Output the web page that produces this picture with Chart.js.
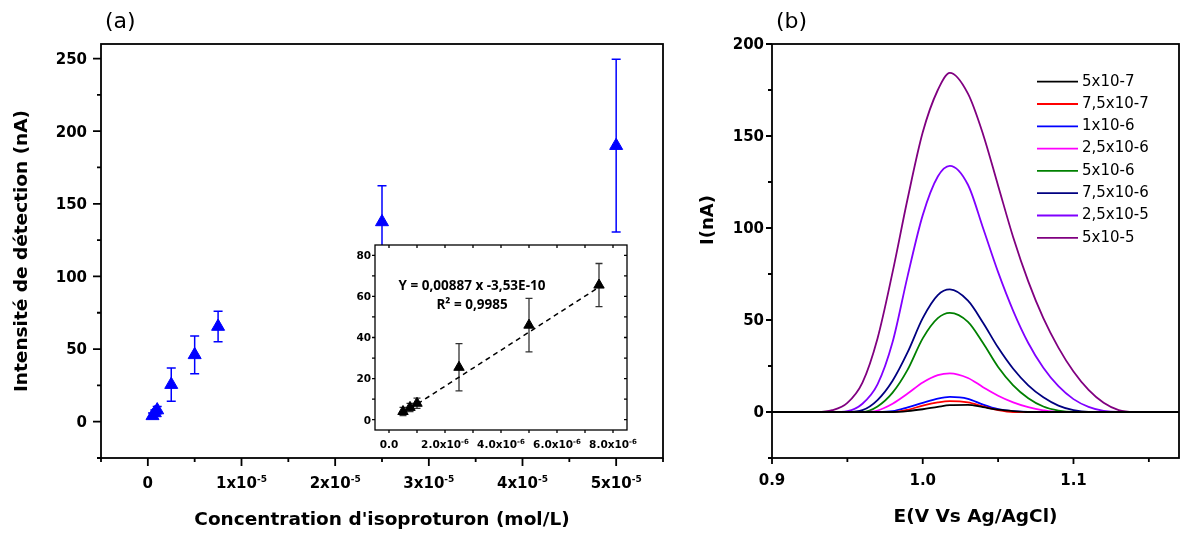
<!DOCTYPE html>
<html>
<head>
<meta charset="utf-8">
<script src="https://cdn.jsdelivr.net/npm/chart.js@4.4.1/dist/chart.umd.min.js"></script>
<style>
  html, body { margin: 0; padding: 0; background: #fff; }
  #wrap { position: relative; width: 1180px; height: 533px; overflow: hidden; }
  canvas { position: absolute; }
  #chartA { left: 0; top: 0; }
  #inset { left: 330px; top: 235px; }
  #chartB { left: 680px; top: 0; }
  .tag { position: absolute; top: 8px; font: 22px "DejaVu Sans"; color: #000; }
</style>
</head>
<body>
<div id="wrap">
  <canvas id="chartA" width="680" height="533"></canvas>
  <canvas id="inset" width="310" height="230"></canvas>
  <canvas id="chartB" width="500" height="533"></canvas>
  <div class="tag" style="left:105px">(a)</div>
  <div class="tag" style="left:776px">(b)</div>
</div>
<script>
// ---- (a) calibration data ----
const concentrations = [5e-7, 7.5e-7, 1e-6, 2.5e-6, 5e-6, 7.5e-6, 2.5e-5, 5e-5];
const intensities    = [4, 6, 8, 25.5, 46, 65.5, 137.5, 190];
const intensityErr   = [2, 2, 2.5, 11.5, 13, 10.5, 25, 59.5];
const insetCount = 6; // linear range shown in the inset
const fitX = [4.8e-7, 7.5e-6];
const fitY = [3, 64.5];
const equationLines = ['Y = 0,00887 x -3,53E-10', 'R² = 0,9985'];

// tick values / labels ("^" marks the exponent)
const concMajor = [0, 1e-5, 2e-5, 3e-5, 4e-5, 5e-5];
const concLabels = ['0', '1x10^-5', '2x10^-5', '3x10^-5', '4x10^-5', '5x10^-5'];
const concMinor = [-5e-6, 5e-6, 1.5e-5, 2.5e-5, 3.5e-5, 4.5e-5, 5.5e-5];
const intMajor = [0, 50, 100, 150, 200, 250];
const intLabels = ['0', '50', '100', '150', '200', '250'];
const intMinor = [-25, 25, 75, 125, 175, 225];
const insetXMajor = [0, 2e-6, 4e-6, 6e-6, 8e-6];
const insetXLabels = ['0.0', '2.0x10^-6', '4.0x10^-6', '6.0x10^-6', '8.0x10^-6'];
const insetXMinor = [1e-6, 3e-6, 5e-6, 7e-6];
const insetYMajor = [0, 20, 40, 60, 80];
const insetYLabels = ['0', '20', '40', '60', '80'];
const insetYMinor = [10, 30, 50, 70];

// ---- (b) voltammograms ----
const potentials = [0.90, 0.92, 0.93, 0.94, 0.95, 0.96, 0.97, 0.98, 0.99, 1.00, 1.01, 1.018, 1.03,
                    1.04, 1.05, 1.06, 1.07, 1.08, 1.09, 1.10, 1.11, 1.12, 1.13, 1.14, 1.15, 1.17];
const cur5e7   = [0, 0, 0, 0, 0, 0, 0, 0, 0.5, 1.5, 2.8, 3.7, 3.9, 2.6, 1.3, 0.5, 0, 0, 0, 0, 0, 0, 0, 0, 0, 0];
const cur75e7  = [0, 0, 0, 0, 0, 0, 0, 0, 1.2, 3.5, 5.2, 5.9, 5.2, 3, 1, 0, 0, 0, 0, 0, 0, 0, 0, 0, 0, 0];
const cur1e6   = [0, 0, 0, 0, 0, 0, 0, 0.4, 2.5, 5, 7.3, 8.2, 7.2, 4, 1.5, 0.4, 0, 0, 0, 0, 0, 0, 0, 0, 0, 0];
const cur25e6  = [0, 0, 0, 0, 0, 0, 0.8, 4.5, 10, 16, 20, 21, 18.5, 13.5, 8.8, 5.2, 2.6, 0.9, 0, 0, 0, 0, 0, 0, 0, 0];
const cur5e6   = [0, 0, 0, 0, 0, 0, 3, 10.5, 23, 40, 51, 53.9, 49, 37.5, 24.5, 14.5, 7.5, 3, 0.8, 0, 0, 0, 0, 0, 0, 0];
const cur75e6  = [0, 0, 0, 0, 0, 1, 6.5, 17, 32.5, 51, 63.5, 66.6, 60.5, 48.5, 35, 23.5, 14.5, 8, 3.5, 1, 0, 0, 0, 0, 0, 0];
const cur25e5  = [0, 0, 0, 0, 0.5, 4.5, 15, 38, 74, 107, 128, 133.8, 123.5, 100, 76, 55, 37.5, 24, 14, 7, 2.8, 0.6, 0, 0, 0, 0];
const cur5e5   = [0, 0, 0, 1, 5, 16, 40, 76, 116, 152, 175, 184.3, 173, 151, 123, 95, 71, 51, 35, 22, 12, 5, 1, 0, 0, 0];
const curveLabels = ['5x10-7', '7,5x10-7', '1x10-6', '2,5x10-6', '5x10-6', '7,5x10-6', '2,5x10-5', '5x10-5'];
const curveSets = [cur5e7, cur75e7, cur1e6, cur25e6, cur5e6, cur75e6, cur25e5, cur5e5];
const curveColors = ['#000000', '#ff0000', '#0000ff', '#ff00ff', '#008000', '#000080', '#8000ff', '#800080'];

const potMajor = [0.9, 1.0, 1.1];
const potLabels = ['0.9', '1.0', '1.1'];
const potMinor = [0.95, 1.05, 1.15];
const curMajor = [0, 50, 100, 150, 200];
const curLabels = ['0', '50', '100', '150', '200'];
const curMinor = [-25, 25, 75, 125, 175];

const FONT = 'DejaVu Sans';

// draws "base^exp" with a raised exponent
function drawTickLabel(ctx, txt, x, y, align, size) {
  const [base, exp = ''] = txt.split('^');
  const expSize = Math.round(size * 0.62);
  ctx.font = `bold ${size}px "${FONT}"`;
  const wb = ctx.measureText(base).width;
  ctx.font = `bold ${expSize}px "${FONT}"`;
  const we = exp ? ctx.measureText(exp).width : 0;
  const x0 = align === 'center' ? x - (wb + we) / 2 : x - wb - we;
  ctx.textAlign = 'left';
  ctx.textBaseline = 'alphabetic';
  ctx.font = `bold ${size}px "${FONT}"`;
  ctx.fillText(base, x0, y);
  if (exp) {
    ctx.font = `bold ${expSize}px "${FONT}"`;
    ctx.fillText(exp, x0 + wb, y - size * 0.42);
  }
}

// Origin-style box with outward ticks
function framePlugin(o) {
  return {
    id: 'frame',
    beforeDraw(chart) {
      if (!o.fill) return;
      const { ctx, chartArea: a } = chart;
      ctx.save();
      ctx.fillStyle = '#fff';
      ctx.fillRect(a.left, a.top, a.right - a.left, a.bottom - a.top);
      ctx.restore();
    },
    afterDraw(chart) {
      const { ctx, chartArea: a, scales } = chart;
      const xs = scales.x, ys = scales.y;
      ctx.save();
      ctx.strokeStyle = '#000';
      ctx.fillStyle = '#000';
      ctx.lineWidth = o.lineWidth;
      ctx.strokeRect(a.left, a.top, a.right - a.left, a.bottom - a.top);
      ctx.beginPath();
      const xt = [...o.x.major.map(v => [v, o.major]), ...o.x.minor.map(v => [v, o.minor])];
      xt.forEach(([v, len]) => {
        const p = xs.getPixelForValue(v);
        ctx.moveTo(p, a.bottom); ctx.lineTo(p, a.bottom + len);
        if (o.mirror) { ctx.moveTo(p, a.top); ctx.lineTo(p, a.top + o.mirror); }
      });
      const yt = [...o.y.major.map(v => [v, o.major]), ...o.y.minor.map(v => [v, o.minor])];
      yt.forEach(([v, len]) => {
        const p = ys.getPixelForValue(v);
        ctx.moveTo(a.left, p); ctx.lineTo(a.left - len, p);
        if (o.mirror) { ctx.moveTo(a.right, p); ctx.lineTo(a.right - o.mirror, p); }
      });
      ctx.stroke();
      o.x.major.forEach((v, i) =>
        drawTickLabel(ctx, o.x.labels[i], xs.getPixelForValue(v), a.bottom + o.x.gap, 'center', o.size));
      o.y.major.forEach((v, i) =>
        drawTickLabel(ctx, o.y.labels[i], a.left - o.y.gap, ys.getPixelForValue(v) + o.size * 0.36, 'right', o.size));
      ctx.restore();
    }
  };
}

const errorBars = {
  id: 'errorBars',
  beforeDatasetsDraw(chart) {
    const { ctx, scales: { x, y } } = chart;
    chart.data.datasets.forEach(ds => {
      if (!ds.errors) return;
      ctx.save();
      ctx.strokeStyle = ds.errorColor;
      ctx.lineWidth = ds.errorWidth;
      ctx.beginPath();
      ds.data.forEach((pt, i) => {
        const px = x.getPixelForValue(pt.x);
        const hi = y.getPixelForValue(pt.y + ds.errors[i]);
        const lo = y.getPixelForValue(pt.y - ds.errors[i]);
        ctx.moveTo(px, hi); ctx.lineTo(px, lo);
        ctx.moveTo(px - ds.capHalf, hi); ctx.lineTo(px + ds.capHalf, hi);
        ctx.moveTo(px - ds.capHalf, lo); ctx.lineTo(px + ds.capHalf, lo);
      });
      ctx.stroke();
      ctx.restore();
    });
  }
};

const bold = size => ({ family: FONT, size, weight: 'bold' });

function fixedAxes(left, bottomH) {
  return {
    x: {
      type: 'linear',
      ticks: { display: false },
      grid: { display: false },
      border: { display: false },
      afterFit: s => { s.height = bottomH; s.paddingLeft = 0; s.paddingRight = 0; }
    },
    y: {
      type: 'linear',
      ticks: { display: false },
      grid: { display: false },
      border: { display: false },
      afterFit: s => { s.width = left; s.paddingTop = 0; s.paddingBottom = 0; }
    }
  };
}

const common = {
  responsive: false,
  animation: false,
  events: [],
  plugins: { legend: { display: false }, tooltip: { enabled: false } }
};

// ---- chart (a) ----
const axesA = fixedAxes(101, 75);
Object.assign(axesA.x, {
  min: -5e-6, max: 5.5e-5,
  title: { display: true, text: "Concentration d'isoproturon (mol/L)", color: '#000',
           font: bold(18.5), padding: { top: 0, bottom: 2 } }
});
Object.assign(axesA.y, {
  min: -25, max: 260,
  title: { display: true, text: 'Intensité de détection (nA)', color: '#000',
           font: bold(18.5), padding: { top: 11, bottom: 0 } }
});

new Chart(document.getElementById('chartA'), {
  type: 'scatter',
  data: {
    datasets: [{
      data: concentrations.map((c, i) => ({ x: c, y: intensities[i] })),
      errors: intensityErr, errorColor: '#0000ff', errorWidth: 1.5, capHalf: 4.5,
      pointStyle: 'triangle', pointRadius: 7.5,
      backgroundColor: '#0000ff', borderColor: '#0000ff', borderWidth: 1
    }]
  },
  options: { ...common, layout: { padding: { top: 44, right: 17, left: 0, bottom: 0 } }, scales: axesA },
  plugins: [errorBars, framePlugin({
    lineWidth: 1.8, major: 8, minor: 4, size: 15,
    x: { major: concMajor, minor: concMinor, labels: concLabels, gap: 30 },
    y: { major: intMajor, minor: intMinor, labels: intLabels, gap: 14 }
  })]
});

// ---- inset ----
const axesI = fixedAxes(45, 35);
Object.assign(axesI.x, { min: -5e-7, max: 8.5e-6 });
Object.assign(axesI.y, { min: -5, max: 85 });

const equationText = {
  id: 'equation',
  afterDatasetsDraw(chart) {
    const { ctx, chartArea: a } = chart;
    ctx.save();
    ctx.font = 'bold 13.5px "Open Sans"';
    ctx.fillStyle = '#000';
    ctx.textAlign = 'center';
    ctx.textBaseline = 'middle';
    ctx.fillText(equationLines[0], a.left + 97, a.top + 41);
    ctx.fillText(equationLines[1], a.left + 97, a.top + 60);
    ctx.restore();
  }
};

new Chart(document.getElementById('inset'), {
  type: 'scatter',
  data: {
    datasets: [{
      type: 'line',
      data: fitX.map((v, i) => ({ x: v, y: fitY[i] })),
      borderColor: '#000', borderWidth: 1.5, borderDash: [5, 4],
      pointRadius: 0, fill: false
    }, {
      data: concentrations.slice(0, insetCount).map((c, i) => ({ x: c, y: intensities[i] })),
      errors: intensityErr.slice(0, insetCount), errorColor: '#333', errorWidth: 1.3, capHalf: 3.5,
      pointStyle: 'triangle', pointRadius: 6,
      backgroundColor: '#000', borderColor: '#000', borderWidth: 1
    }]
  },
  options: { ...common, layout: { padding: { top: 10, right: 13, left: 0, bottom: 0 } }, scales: axesI },
  plugins: [errorBars, equationText, framePlugin({
    fill: true, lineWidth: 1.3, major: 3, minor: 3, mirror: 3, size: 10.5,
    x: { major: insetXMajor, minor: insetXMinor, labels: insetXLabels, gap: 18 },
    y: { major: insetYMajor, minor: insetYMinor, labels: insetYLabels, gap: 4 }
  })]
});

// ---- chart (b) ----
const axesB = fixedAxes(92, 75);
Object.assign(axesB.x, {
  min: 0.9, max: 1.17,
  title: { display: true, text: 'E(V Vs Ag/AgCl)', color: '#000',
           font: bold(18.5), padding: { top: 0, bottom: 5 } }
});
Object.assign(axesB.y, { min: -25, max: 200 });

const curveLegend = {
  id: 'curveLegend',
  afterDraw(chart) {
    const { ctx, chartArea: a } = chart;
    ctx.save();
    ctx.font = `15px "${FONT}"`;
    ctx.textAlign = 'left';
    ctx.textBaseline = 'middle';
    chart.data.datasets.forEach((ds, i) => {
      const yy = a.top + 37.7 + i * 22.3;
      ctx.strokeStyle = ds.borderColor;
      ctx.lineWidth = 1.8;
      ctx.beginPath();
      ctx.moveTo(a.right - 142, yy);
      ctx.lineTo(a.right - 101, yy);
      ctx.stroke();
      ctx.fillStyle = '#000';
      ctx.fillText(ds.label, a.right - 97, yy);
    });
    // y title sits a bit above the axis centre in the original
    ctx.translate(28, 220);
    ctx.rotate(-Math.PI / 2);
    ctx.font = `bold 18px "${FONT}"`;
    ctx.textAlign = 'center';
    ctx.fillText('I(nA)', 0, 0);
    ctx.restore();
  }
};

new Chart(document.getElementById('chartB'), {
  type: 'line',
  data: {
    datasets: curveSets.map((set, k) => ({
      label: curveLabels[k],
      data: potentials.map((e, i) => ({ x: e, y: set[i] })),
      borderColor: curveColors[k], borderWidth: 1.8,
      pointRadius: 0, fill: false, cubicInterpolationMode: 'monotone'
    }))
  },
  options: { ...common, layout: { padding: { top: 44, right: 1, left: 0, bottom: 0 } }, scales: axesB },
  plugins: [curveLegend, framePlugin({
    lineWidth: 1.8, major: 6, minor: 4, size: 15,
    x: { major: potMajor, minor: potMinor, labels: potLabels, gap: 27 },
    y: { major: curMajor, minor: curMinor, labels: curLabels, gap: 8 }
  })]
});
</script>
</body>
</html>
